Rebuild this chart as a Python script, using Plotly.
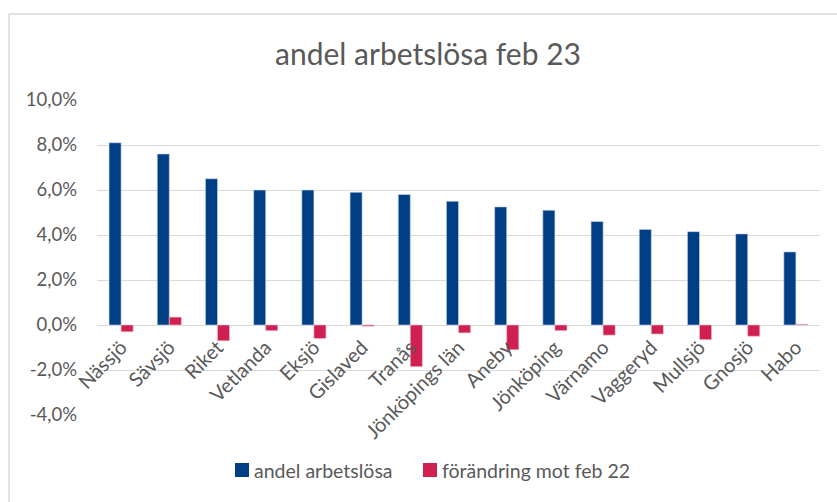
import plotly.graph_objects as go

categories = ["Nässjö", "Sävsjö", "Riket", "Vetlanda", "Eksjö", "Gislaved", "Tranås",
              "Jönköpings län", "Aneby", "Jönköping", "Värnamo", "Vaggeryd", "Mullsjö",
              "Gnosjö", "Habo"]
andel = [8.1, 7.6, 6.5, 6.0, 6.0, 5.9, 5.8, 5.5, 5.25, 5.1, 4.6, 4.25, 4.15, 4.05, 3.25]
forandring = [-0.3, 0.35, -0.7, -0.25, -0.6, -0.05, -1.85, -0.35, -1.1, -0.25, -0.45, -0.4, -0.65, -0.5, 0.03]
ytick_vals = [-4, -2, 0, 2, 4, 6, 8, 10]
ytick_text = ["-4,0%", "-2,0%", "0,0%", "2,0%", "4,0%", "6,0%", "8,0%", "10,0%"]
series_names = ["andel arbetslösa", "förändring mot feb 22"]

BLUE = "#003F85"
RED = "#D0204F"
GREY = "#595959"
FONT = "Lato"

W, H = 837, 502
L, R, T, B = 97, 17, 100, 87
ph = H - T - B
pw = W - L - R


def px_x(x):
    return (x - L) / pw


def px_y(y):
    return ((H - B) - y) / ph


fig = go.Figure()
fig.add_trace(go.Bar(x=categories, y=andel, name=series_names[0],
                     marker=dict(color=BLUE, line=dict(color="#c9d6ea", width=0.6))))
fig.add_trace(go.Bar(x=categories, y=forandring, name=series_names[1],
                     marker=dict(color=RED, line=dict(color="#f0c0cc", width=0.6))))

zero_pos = (0 - ytick_vals[0]) / (ytick_vals[-1] - ytick_vals[0])

# custom legend (Excel style: small square right next to text)
legend_items = [(235, BLUE, series_names[0]), (423, RED, series_names[1])]
shapes = [
    dict(type="line", xref="paper", yref="paper", x0=px_x(9), x1=px_x(W + 5),
         y0=px_y(14), y1=px_y(14), line=dict(color="#d9d9d9", width=1.5)),
    dict(type="line", xref="paper", yref="paper", x0=px_x(9), x1=px_x(9),
         y0=px_y(14), y1=px_y(H + 5), line=dict(color="#d9d9d9", width=1.5)),
]
annotations = []
for x0, col, name in legend_items:
    shapes.append(dict(type="rect", xref="paper", yref="paper",
                       x0=px_x(x0), x1=px_x(x0 + 14), y0=px_y(463), y1=px_y(477),
                       fillcolor=col, line=dict(width=0)))
    annotations.append(dict(text=name, xref="paper", yref="paper", x=px_x(x0 + 17),
                            y=px_y(470), xanchor="left", yanchor="middle", showarrow=False,
                            font=dict(family=FONT, size=19.5, color=GREY)))

fig.update_layout(
    width=W, height=H,
    margin=dict(l=L, r=R, t=T, b=B, autoexpand=False),
    paper_bgcolor="white", plot_bgcolor="white",
    barmode="group", bargap=0.5, bargroupgap=0.0,
    showlegend=False,
    font=dict(family=FONT, color=GREY, size=17),
    title=dict(text="andel arbetslösa feb 23", x=428 / W, xanchor="center", xref="container",
               y=1 - 54 / H, yanchor="middle", yref="container",
               font=dict(family=FONT, size=30, color=GREY)),
    xaxis=dict(anchor="free", position=zero_pos, tickangle=-45, showgrid=False,
               showline=False, ticks="", tickfont=dict(size=20, color=GREY),
               automargin=False, ticklabelstandoff=6),
    yaxis=dict(range=[-4, 10], tickvals=ytick_vals, ticktext=ytick_text,
               showgrid=True, gridcolor="#d9d9d9", gridwidth=1.3, zeroline=False,
               showline=False, ticks="", tickfont=dict(size=18.5, color=GREY),
               automargin=False, ticklabelstandoff=19),
    shapes=shapes,
    annotations=annotations,
)

fig.write_html("out.html", config={"displayModeBar": False},
               post_script="document.body.style.margin='0px';")
